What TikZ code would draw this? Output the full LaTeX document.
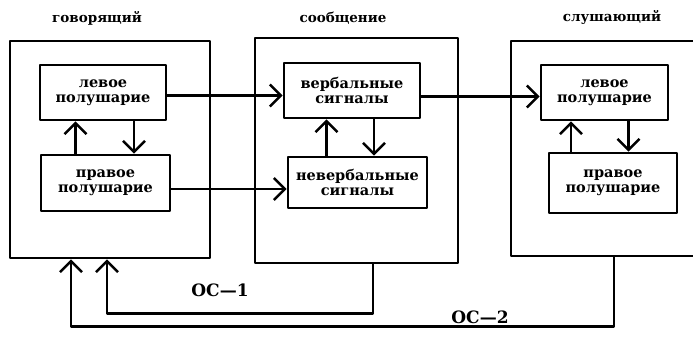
\documentclass[tikz,border=0pt]{standalone}
\usepackage{fontspec}
\setmainfont{DejaVu Serif}
\usepackage{tikz}
\usetikzlibrary{arrows.meta}

\tikzset{
  outerbox/.style={draw,line width=2.6pt,inner sep=0pt},
  halfbox/.style={draw,line width=2.6pt,align=center,inner sep=0pt,
    font=\bfseries\fontsize{14.5}{15}\selectfont},
  title/.style={font=\bfseries\fontsize{13.5}{15}\selectfont},
  oslabel/.style={font=\bfseries\fontsize{17}{17}\selectfont}
}

\begin{document}
\begin{tikzpicture}[line cap=round,line join=round,>={Straight Barb[length=11pt,width=22pt]},x=1pt,y=-1pt,line width=2.6pt]
\useasboundingbox (0,0) rectangle (693,337);
\clip (0,0) rectangle (693,337);

% outer boxes
\node[outerbox,minimum width=200pt,minimum height=217pt] (spk) at (110,149.5) {};
\node[outerbox,minimum width=203pt,minimum height=225pt] (msg) at (356.5,150.5) {};
\node[outerbox,minimum width=200pt,minimum height=215pt] (lst) at (611,148.5) {};

% titles
\node[title] (tspk) at (97,18) {говорящий};
\node[title] (tmsg) at (343,18) {сообщение};
\node[title] (tlst) at (612,17) {слушающий};

% hemispheres and signals
\node[halfbox,minimum width=126pt,minimum height=55pt] (sL) at (103,92.5) {левое\\полушарие};
\node[halfbox,minimum width=129pt,minimum height=56pt] (sR) at (105.5,183) {правое\\полушарие};
\node[halfbox,minimum width=136pt,minimum height=55pt] (mV) at (352,90.5) {вербальные\\сигналы};
\node[halfbox,minimum width=139pt,minimum height=51pt] (mN) at (357.5,182.5) {невербальные\\сигналы};
\node[halfbox,minimum width=127pt,minimum height=55pt] (lL) at (604.5,92.5) {левое\\полушарие};
\node[halfbox,minimum width=128pt,minimum height=60pt] (lR) at (613,183) {правое\\полушарие};

% inside the boxes
\draw[->] ([xshift=-30]sR.north) -- ([xshift=-30]sR.north |- sL.south);
\draw[->] ([xshift=31]sL.south) -- ([xshift=31]sL.south |- sR.north);
\draw[->] ([xshift=-31]mN.north) -- ([xshift=-31]mN.north |- mV.south);
\draw[->] ([xshift=22]mV.south) -- ([xshift=22]mV.south |- mN.north);
\draw[->] ([xshift=-42]lR.north) -- ([xshift=-42]lR.north |- lL.south);
\draw[->] ([xshift=24]lL.south) -- ([xshift=24]lL.south |- lR.north);

% messages
\draw[->] ([yshift=-3]sL.east) -- ([yshift=-3]sL.east -| mV.west);
\draw[->] ([yshift=-6]sR.east) -- ([yshift=-6]sR.east -| mN.west);
\draw[->] ([yshift=-6]mV.east) -- ([yshift=-6]mV.east -| lL.west);

% feedback
\draw[->] ([xshift=16.5]msg.south) -- ++(0,49) -| ([xshift=-3]spk.south);
\draw[->] ([xshift=3]lst.south) -- ++(0,69) -| ([xshift=-39]spk.south);
\node[oslabel] (os1) at (220,290) {ОС—1};
\node[oslabel] (os2) at (480,317) {ОС—2};

\end{tikzpicture}
\end{document}
